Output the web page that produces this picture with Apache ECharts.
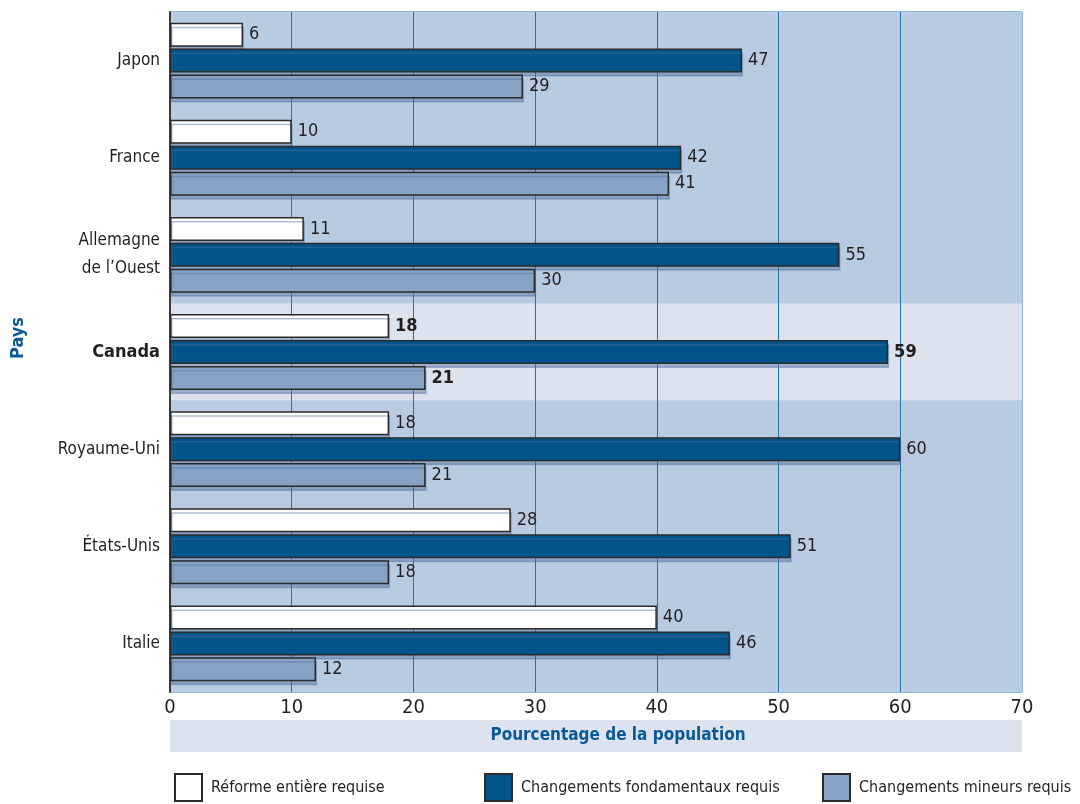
<!DOCTYPE html>
<html><head><meta charset="utf-8">
<script src="https://cdn.jsdelivr.net/npm/echarts@6/dist/echarts.min.js"></script>
<style>html,body{margin:0;padding:0;background:#fff}#c{width:1080px;height:804px}</style>
</head><body><div id="c"></div>
<script>
const categories = ['Japon', 'France', 'Allemagne\nde l’Ouest', 'Canada', 'Royaume-Uni', 'États-Unis', 'Italie'];
const reforme = [6, 10, 11, 18, 18, 28, 40];
const fondamentaux = [47, 42, 55, 59, 60, 51, 46];
const mineurs = [29, 41, 30, 21, 21, 18, 12];
const seriesNames = ['Réforme entière requise', 'Changements fondamentaux requis', 'Changements mineurs requis'];
const xTicks = [0, 10, 20, 30, 40, 50, 60, 70];
const highlight = 'Canada';

const FONT = '"DejaVu Sans Condensed", "Liberation Sans Narrow", sans-serif';
const colors = ['#ffffff', '#02558a', '#86a3c6'];
const GRIDBLUE = '#1f72ad';

function mk(vals) {
  return vals.map((v, i) => categories[i] === highlight
    ? { value: v, label: { fontWeight: 'bold' } } : v);
}
function series(name, vals, color, withGrid) {
  const s = {
    name, type: 'bar', data: mk(vals), barWidth: 24, barGap: '8%', z: 3,
    itemStyle: { color, borderColor: '#2b2b2b', borderWidth: 1.5,
      shadowColor: 'rgba(80,110,160,0.45)', shadowOffsetX: 1, shadowOffsetY: 4, shadowBlur: 0 },
    label: { show: true, position: 'right', distance: 6, color: '#231f20',
      fontFamily: FONT, fontSize: 18 }
  };
  if (withGrid) {
    s.markLine = { silent: true, symbol: 'none', z: 1, animation: false,
      label: { show: false },
      lineStyle: { color: GRIDBLUE, width: 1, type: 'solid' },
      data: xTicks.slice(1, -1).map(v => ({ xAxis: v })) };
  }
  return s;
}
const chart = echarts.init(document.getElementById('c'));
const bandColors = categories.map(c => c === highlight ? '#dce3ef' : '#b9cbe0');
chart.setOption({
  animation: false,
  grid: { left: 170, right: 58, top: 12, bottom: 112, show: true,
    backgroundColor: '#b9cbe0', borderColor: GRIDBLUE, borderWidth: 1 },
  xAxis: { type: 'value', min: 0, max: 70, interval: 10,
    axisLine: { show: false }, axisTick: { show: false },
    splitLine: { show: false },
    axisLabel: { color: '#231f20', fontFamily: FONT, fontSize: 20, margin: 6,
      formatter: v => xTicks.includes(v) ? String(v) : '' } },
  yAxis: { type: 'category', data: categories, inverse: true,
    axisLine: { show: true, lineStyle: { color: '#3a3a3a', width: 2 } },
    axisTick: { show: false },
    splitArea: { show: true, areaStyle: { color: bandColors } },
    axisLabel: { color: '#231f20', fontFamily: FONT, fontSize: 17, margin: 10, lineHeight: 28,
      formatter: v => v === highlight ? '{b|' + v + '}' : v,
      rich: { b: { fontWeight: 'bold', fontFamily: FONT, fontSize: 18, color: '#231f20' } } } },
  legend: [0, 1, 2].map((i) => ({
    data: [seriesNames[i]], left: [174, 484, 822][i], top: 773, padding: 0,
    icon: 'rect', itemWidth: 27, itemHeight: 27, itemGap: 0,
    textStyle: { color: '#231f20', fontFamily: FONT, fontSize: 16, padding: [0, 0, 0, 4] },
    selectedMode: false
  })),
  graphic: [
    { type: 'rect', shape: { x: 170, y: 720, width: 852, height: 32 }, style: { fill: '#dce3ef' }, silent: true },
    { type: 'text', x: 618, y: 736, style: { text: 'Pourcentage de la population', fill: '#0a5a96',
      font: 'bold 17px ' + FONT, textAlign: 'center', textVerticalAlign: 'middle' } },
    { type: 'text', x: 18, y: 338, rotation: Math.PI / 2, style: { text: 'Pays', fill: '#0a5a96',
      font: 'bold 18px ' + FONT, textAlign: 'center', textVerticalAlign: 'middle' } }
  ],
  series: [series(seriesNames[0], reforme, colors[0], true),
           series(seriesNames[1], fondamentaux, colors[1], false),
           series(seriesNames[2], mineurs, colors[2], false)]
});
</script></body></html>
